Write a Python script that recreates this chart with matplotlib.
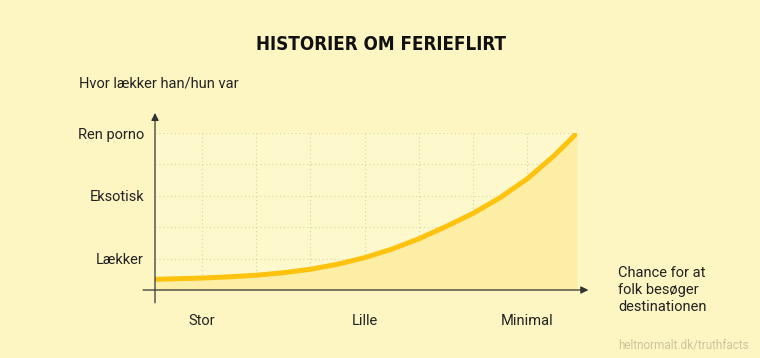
import matplotlib
matplotlib.use("Agg")
import matplotlib.pyplot as plt

# data
tick_pos = [1, 2, 3, 4, 5, 6, 7]
tick_labels = ["Stor", "", "", "Lille", "", "", "Minimal"]
level_pos = [1, 2, 3, 4, 5]
level_labels = ["Lækker", "", "Eksotisk", "", "Ren porno"]

curve_x = [0.13, 1.0, 1.5, 2.0, 2.5, 3.0, 3.5, 4.0, 4.5, 5.0, 5.5, 6.0, 6.5, 7.0, 7.5, 7.92]
curve_y = [0.34, 0.38, 0.42, 0.47, 0.55, 0.66, 0.82, 1.03, 1.30, 1.63, 2.02, 2.44, 2.94, 3.54, 4.28, 5.0]

bg = "#fdf6c3"
plotbg = "#fef9cc"
under = "#fcefa5"
line_col = "#ffc20e"
txt = "#222222"
font = "Roboto"

W, H = 760, 358
fig = plt.figure(figsize=(7.6, 3.58), dpi=100, facecolor=bg)
ax = fig.add_axes([155 / W, (H - 290) / H, 422 / W, 157 / H])
ax.set_facecolor(plotbg)
ax.set_xlim(0.13, 7.92)
ax.set_ylim(0, 5)

ax.fill_between(curve_x, curve_y, 0, color=under, lw=0, zorder=1)
ax.plot(curve_x, curve_y, color=line_col, lw=3.6, solid_capstyle="butt",
        solid_joinstyle="round", zorder=3)

for s in ax.spines.values():
    s.set_visible(False)

ax.set_xticks(tick_pos)
ax.set_xticklabels(tick_labels, fontfamily=font, fontsize=10.5, color=txt)
ax.set_yticks(level_pos)
ax.set_yticklabels(level_labels, fontfamily=font, fontsize=10.5, color=txt)
ax.tick_params(axis="x", length=0, pad=17)
ax.tick_params(axis="y", length=0, pad=8)
ax.grid(True, color="#d9d2a2", lw=0.8, linestyle=(0, (1, 2.5)), zorder=0)
ax.set_axisbelow(True)

# axes with arrow heads
ax.annotate("", xy=(0.13, 5.64), xytext=(0.13, -0.41),
            arrowprops=dict(arrowstyle="-|>", color="#333333", lw=0.9,
                            mutation_scale=11, shrinkA=0, shrinkB=0),
            annotation_clip=False, zorder=5)
ax.annotate("", xy=(8.13, 0), xytext=(-0.09, 0),
            arrowprops=dict(arrowstyle="-|>", color="#333333", lw=0.9,
                            mutation_scale=11, shrinkA=0, shrinkB=0),
            annotation_clip=False, zorder=5)

fig.text(380.5 / W, 1 - 45 / H, "HISTORIER OM FERIEFLIRT", ha="center", va="center",
         fontfamily="DejaVu Sans", fontstretch="condensed", fontweight="bold",
         fontsize=13.5, color="#111111")
fig.text(79 / W, 1 - 84 / H, "Hvor lækker han/hun var", ha="left", va="center",
         fontfamily=font, fontsize=10.5, color=txt)
fig.text(618 / W, 1 - 290 / H, "Chance for at\nfolk besøger\ndestinationen", ha="left",
         va="center", fontfamily=font, fontsize=10.5, color=txt, linespacing=1.25)
fig.text(749 / W, 1 - 345 / H, "heltnormalt.dk/truthfacts", ha="right", va="center",
         fontfamily=font, fontsize=8.5, color="#cbc49c")

fig.savefig("out.png", dpi=100, facecolor=bg)
